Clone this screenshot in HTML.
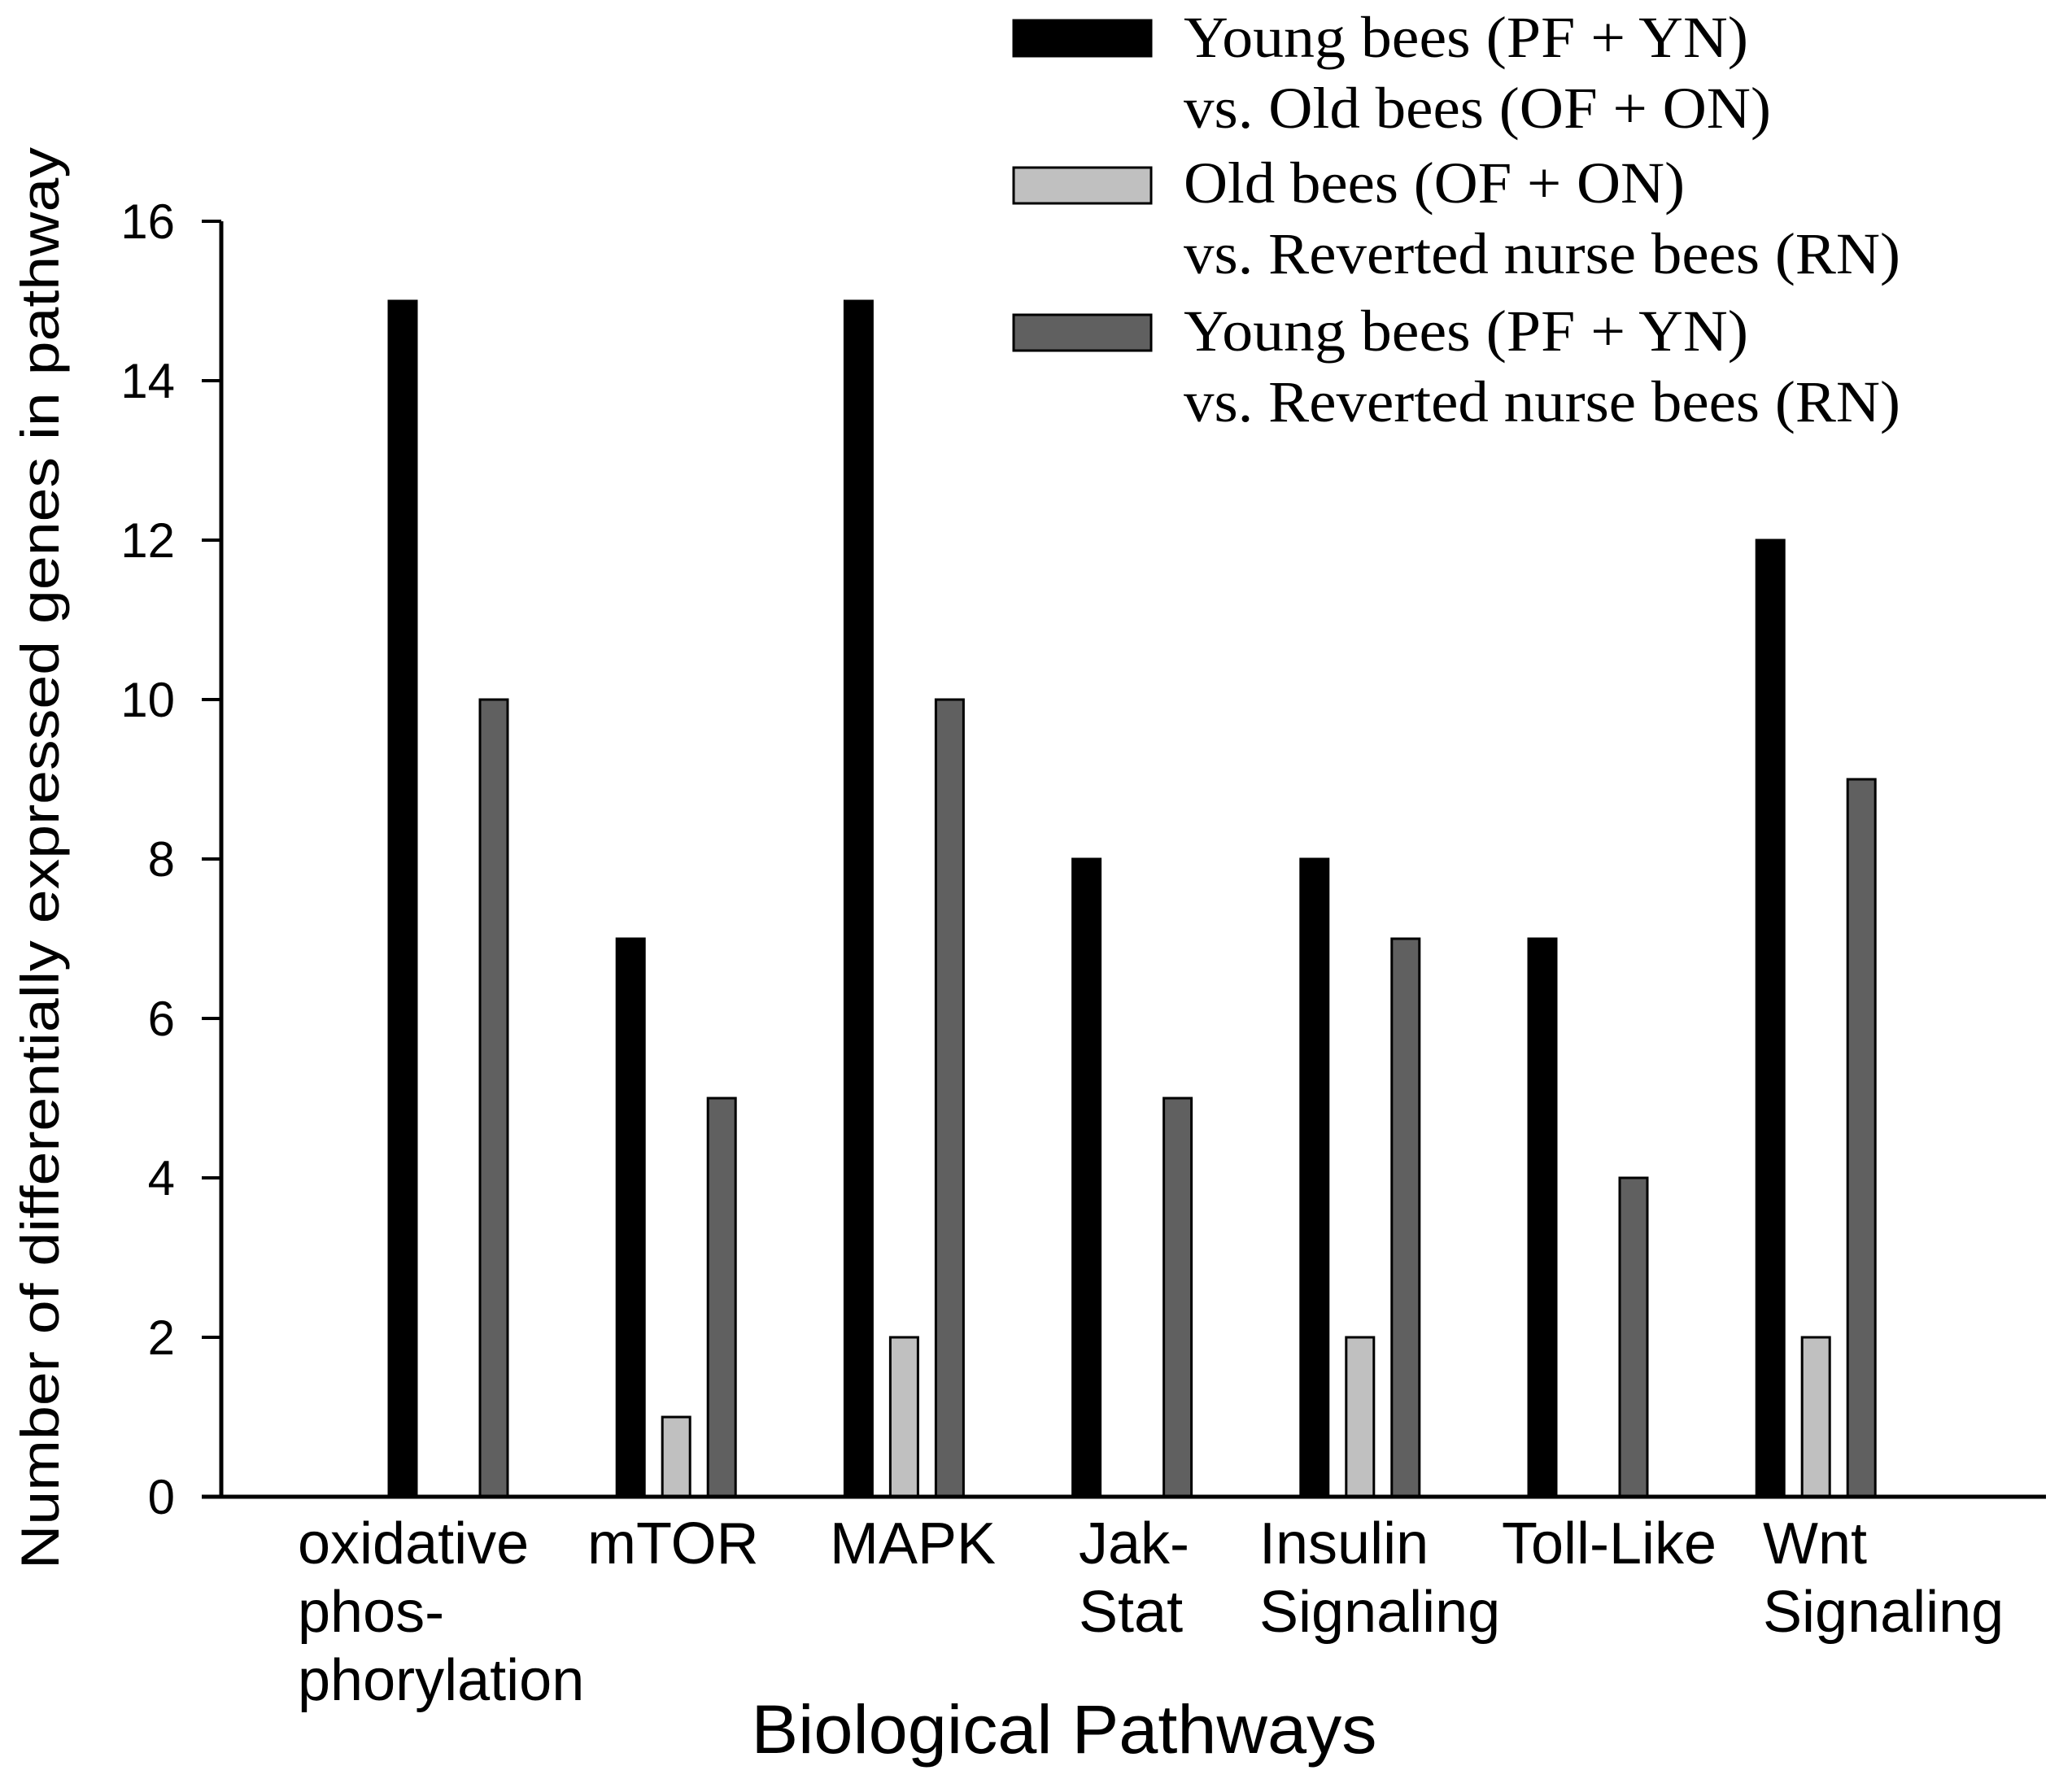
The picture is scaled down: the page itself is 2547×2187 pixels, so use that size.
<!DOCTYPE html>
<html><head><meta charset="utf-8"><style>html,body{margin:0;padding:0;background:#fff}svg{display:block}</style></head>
<body>
<svg id="chart" xmlns="http://www.w3.org/2000/svg" width="2547" height="2187" viewBox="0 0 2547 2187">
<rect x="0" y="0" width="2547" height="2187" fill="#fff"/>
<g id="legend" font-family="'Liberation Serif', serif" font-size="72" fill="#000">
  <g>
    <rect x="1246" y="25" width="169" height="44" fill="#000" stroke="#000" stroke-width="3"/>
    <text x="1455" y="70" textLength="694" lengthAdjust="spacingAndGlyphs">Young bees (PF + YN)</text>
    <text x="1455" y="157" textLength="722" lengthAdjust="spacingAndGlyphs">vs. Old bees (OF + ON)</text>
  </g>
  <g>
    <rect x="1246" y="206" width="169" height="44" fill="#c0c0c0" stroke="#000" stroke-width="3"/>
    <text x="1455" y="249" textLength="616" lengthAdjust="spacingAndGlyphs">Old bees (OF + ON)</text>
    <text x="1455" y="336" textLength="881" lengthAdjust="spacingAndGlyphs">vs. Reverted nurse bees (RN)</text>
  </g>
  <g>
    <rect x="1246" y="387" width="169" height="44" fill="#606060" stroke="#000" stroke-width="3"/>
    <text x="1455" y="431" textLength="694" lengthAdjust="spacingAndGlyphs">Young bees (PF + YN)</text>
    <text x="1455" y="518" textLength="881" lengthAdjust="spacingAndGlyphs">vs. Reverted nurse bees (RN)</text>
  </g>
</g>
<g id="bars"></g>
<g id="axes"></g>
<text transform="translate(72,1055) rotate(-90)" text-anchor="middle" font-family="'Liberation Sans', sans-serif" font-size="66" textLength="1748" lengthAdjust="spacingAndGlyphs">Number of differentially expressed genes in pathway</text>
<text x="1308" y="2155" text-anchor="middle" font-family="'Liberation Sans', sans-serif" font-size="84" textLength="769" lengthAdjust="spacingAndGlyphs">Biological Pathways</text>
</svg>
<script>
const categories = [["oxidative","phos-","phorylation"],["mTOR"],["MAPK"],["Jak-","Stat"],["Insulin","Signaling"],["Toll-Like"],["Wnt","Signaling"]];
const youngVsOld = [15,7,15,8,8,7,12];
const oldVsReverted = [0,1,2,0,2,0,2];
const youngVsReverted = [10,5,10,5,7,4,9];
const yTicks = [0,2,4,6,8,10,12,14,16];
const labelX = [366,722,1020,1326,1548,1846,2167];

const NS = "http://www.w3.org/2000/svg";
const y0 = 1840, y16 = 272;
function yScale(v){ return y0 - (y0 - y16) * v / 16; }
function xGroup(i){ return 495 + 280.2 * i; }
const series = [
  {vals: youngVsOld, off: 0, fill: "#000", name: "young-vs-old"},
  {vals: oldVsReverted, off: 56, fill: "#c0c0c0", name: "old-vs-reverted"},
  {vals: youngVsReverted, off: 112, fill: "#606060", name: "young-vs-reverted"}
];
function mk(tag, attrs, parent){ const e = document.createElementNS(NS, tag); for (const k in attrs) e.setAttribute(k, attrs[k]); parent.appendChild(e); return e; }
const bars = document.getElementById("bars");
series.forEach(s => {
  s.vals.forEach((v, i) => {
    if (v <= 0) return;
    const cx = xGroup(i) + s.off;
    const r = mk("rect", {x: cx - 17, y: yScale(v), width: 34, height: y0 - yScale(v), fill: s.fill, stroke: "#000", "stroke-width": 3}, bars);
    
    
  });
});
const axes = document.getElementById("axes");
const ya = mk("line", {x1: 272, y1: y16, x2: 272, y2: y0 + 2, stroke: "#000", "stroke-width": 5}, axes);


const xa = mk("line", {x1: 248, y1: y0, x2: 2515, y2: y0, stroke: "#000", "stroke-width": 5}, axes);


yTicks.forEach(t => {
  const y = yScale(t);
  const tk = mk("line", {x1: 248, y1: y, x2: 272, y2: y, stroke: "#000", "stroke-width": 4}, axes);
  
  
  const tl = mk("text", {x: 215, y: y + 21, "text-anchor": "end", "font-family": "'Liberation Sans', sans-serif", "font-size": 60}, axes);
  tl.textContent = String(t);
  
  
});
categories.forEach((lines, i) => {
  const t = mk("text", {"font-family": "'Liberation Sans', sans-serif", "font-size": 72}, axes);
  
  
  lines.forEach((ln, j) => {
    const ts = mk("tspan", {x: labelX[i], y: 1922 + j * 84}, t);
    ts.textContent = ln;
  });
});
</script>
</body></html>
